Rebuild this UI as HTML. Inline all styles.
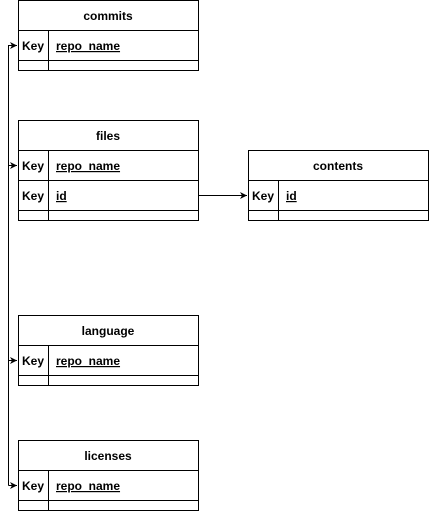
<!DOCTYPE html>
<html><head><style>body{margin:0;background:#fff}svg{display:block}</style></head><body>
<svg width="429" height="511" xmlns="http://www.w3.org/2000/svg" font-family="Liberation Sans, sans-serif" font-size="12">
<defs><marker id="a" markerWidth="8" markerHeight="8" refX="7" refY="4" orient="auto" markerUnits="userSpaceOnUse"><path d="M0,0.5 L7,4 L0,7.5 L2,4 Z" fill="#000"/></marker></defs>
<g fill="none" stroke="#000" stroke-width="1">
<path d="M8.5,485.5 V45.5 H17" marker-end="url(#a)"/>
<path d="M8.5,165.5 H17" marker-end="url(#a)"/>
<path d="M8.5,360.5 H17" marker-end="url(#a)"/>
<path d="M8.5,485.5 H17" marker-end="url(#a)"/>
<path d="M198.5,195.5 H247" marker-end="url(#a)"/>
</g>
<g fill="#fff" stroke="#000">
<!-- commits -->
<rect x="18.5" y="0.5" width="180" height="70"/><path d="M18.5,30.5H198.5M18.5,60.5H198.5M48.5,30.5V70.5"/>
<!-- files -->
<rect x="18.5" y="120.5" width="180" height="100"/><path d="M18.5,150.5H198.5M18.5,180.5H198.5M18.5,210.5H198.5M48.5,150.5V220.5"/>
<!-- contents -->
<rect x="248.5" y="150.5" width="180" height="70"/><path d="M248.5,180.5H428.5M248.5,210.5H428.5M278.5,180.5V220.5"/>
<!-- language -->
<rect x="18.5" y="315.5" width="180" height="70"/><path d="M18.5,345.5H198.5M18.5,375.5H198.5M48.5,345.5V385.5"/>
<!-- licenses -->
<rect x="18.5" y="440.5" width="180" height="70"/><path d="M18.5,470.5H198.5M18.5,500.5H198.5M48.5,470.5V510.5"/>
</g>
<g font-weight="bold" fill="#000">
<text x="108" y="20" text-anchor="middle">commits</text>
<text x="22" y="50">Key</text><text x="56" y="50" text-decoration="underline">repo_name</text>
<text x="108" y="140" text-anchor="middle">files</text>
<text x="22" y="170">Key</text><text x="56" y="170" text-decoration="underline">repo_name</text>
<text x="22" y="200">Key</text><text x="56" y="200" text-decoration="underline">id</text>
<text x="338" y="170" text-anchor="middle">contents</text>
<text x="252" y="200">Key</text><text x="286" y="200" text-decoration="underline">id</text>
<text x="108" y="335" text-anchor="middle">language</text>
<text x="22" y="365">Key</text><text x="56" y="365" text-decoration="underline">repo_name</text>
<text x="108" y="460" text-anchor="middle">licenses</text>
<text x="22" y="490">Key</text><text x="56" y="490" text-decoration="underline">repo_name</text>
</g>
</svg>
</body></html>
